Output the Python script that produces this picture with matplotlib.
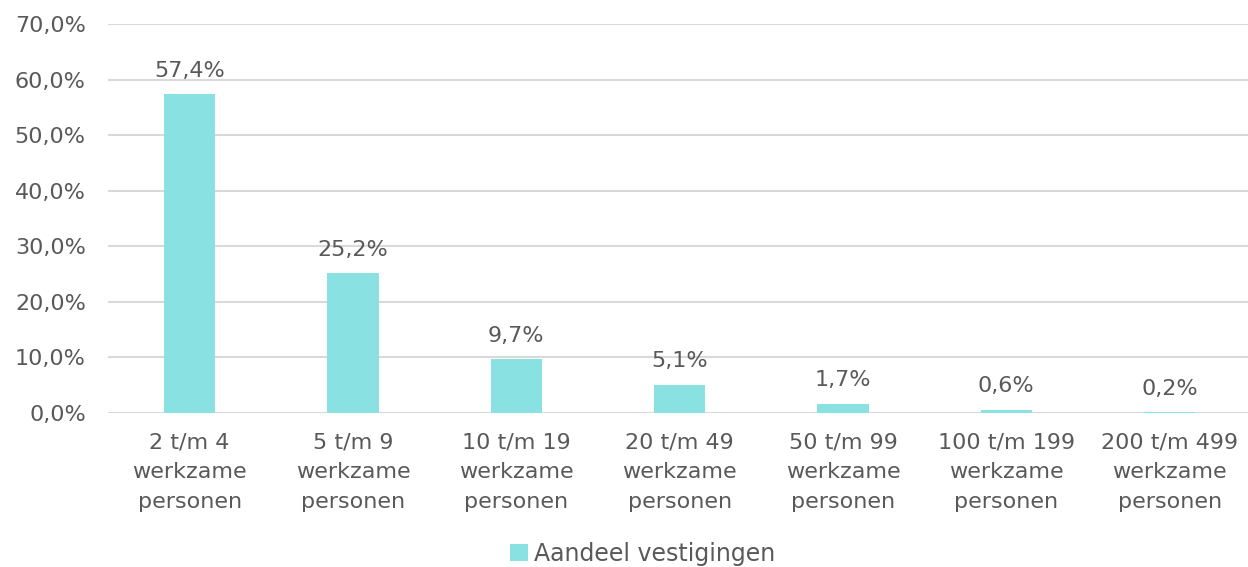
import matplotlib.pyplot as plt
from matplotlib.ticker import FuncFormatter

# Data
categories = ['2 t/m 4\nwerkzame\npersonen', '5 t/m 9\nwerkzame\npersonen',
              '10 t/m 19\nwerkzame\npersonen', '20 t/m 49\nwerkzame\npersonen',
              '50 t/m 99\nwerkzame\npersonen', '100 t/m 199\nwerkzame\npersonen',
              '200 t/m 499\nwerkzame\npersonen']
aandeel = [57.4, 25.2, 9.7, 5.1, 1.7, 0.6, 0.2]
series_name = 'Aandeel vestigingen'

text_color = '#595959'
bar_color = '#8AE1E1'

plt.rcParams['font.family'] = ['DejaVu Sans']

fig = plt.figure(figsize=(12.48, 5.67), dpi=100)
ax = fig.add_axes([108 / 1248, 1 - 413 / 567, 1 - 108 / 1248, (413 - 24) / 567])

x = range(len(categories))
bars = ax.bar(x, aandeel, width=0.315, color=bar_color, label=series_name, zorder=3)

# labels boven de staven
for xi, v in zip(x, aandeel):
    ax.text(xi, v + 2.4, f'{v:.1f}%'.replace('.', ','), ha='center', va='bottom',
            fontsize=16, color=text_color)

ax.set_ylim(0, 70)
ax.set_xlim(-0.5, 6.48)
ax.set_yticks(range(0, 71, 10))
ax.yaxis.set_major_formatter(FuncFormatter(lambda v, p: f'{v:.1f}%'.replace('.', ',')))
ax.set_xticks(list(x))
ax.set_xticklabels(categories, linespacing=1.6)
ax.tick_params(axis='both', length=0, labelsize=16, colors=text_color)
ax.tick_params(axis='x', pad=14)
ax.tick_params(axis='y', pad=16)

ax.grid(axis='y', color='#D9D9D9', linewidth=1.5, zorder=0)
for s in ax.spines.values():
    s.set_visible(False)

leg = fig.legend(handles=[bars], labels=[series_name], loc='center',
                 bbox_to_anchor=(0.515, 1 - 554 / 567), frameon=False, fontsize=17,
                 handlelength=0.75, handleheight=0.75, handletextpad=0.25)
for t in leg.get_texts():
    t.set_color(text_color)

fig.savefig('out.png', dpi=100)
